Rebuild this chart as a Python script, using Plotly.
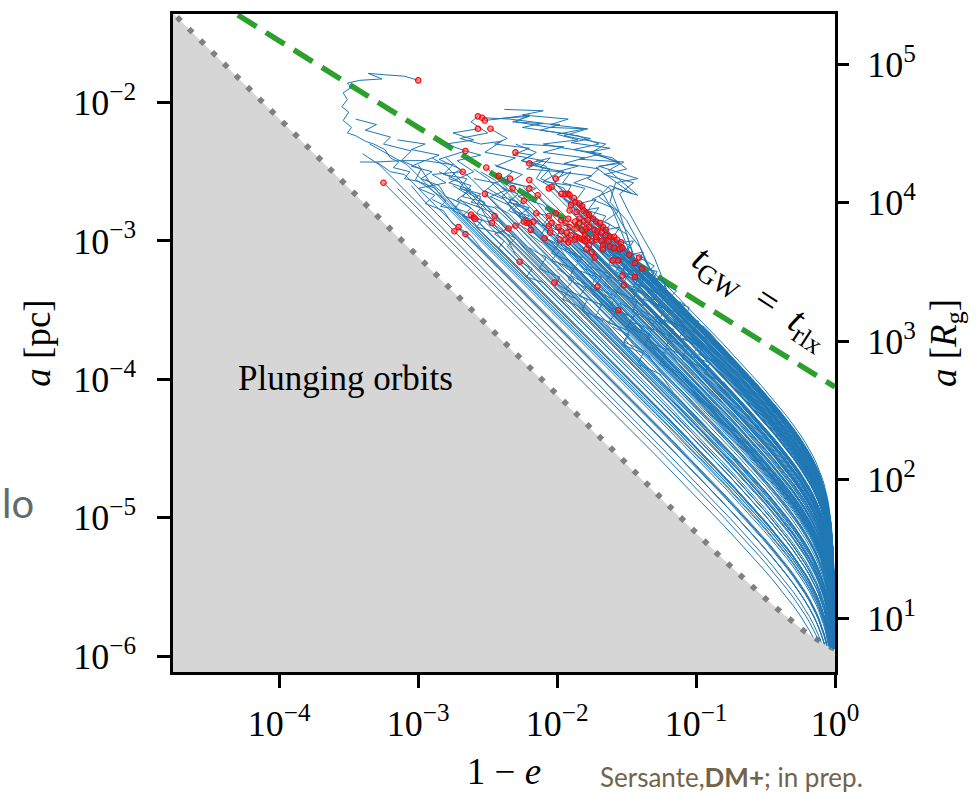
import numpy as np
import plotly.graph_objects as go

SERIF = "Liberation Serif"
SANS = "Lato"

# ---- axes (log10 units) ----
LOG_X_RANGE = [-4.765, 0.0]          # log10(1-e)
LOG_A_RANGE = [-6.113, -1.361]       # log10(a / pc)
LOG_RG_PER_PC = 6.725                # log10(1 pc / R_g)

x_tick_vals = [1e-4, 1e-3, 1e-2, 1e-1, 1.0]
x_tick_text = ["10<sup>−4</sup>", "10<sup>−3</sup>", "10<sup>−2</sup>", "10<sup>−1</sup>", "10<sup>0</sup>"]
y_tick_vals = [1e-6, 1e-5, 1e-4, 1e-3, 1e-2]
y_tick_text = ["10<sup>−6</sup>", "10<sup>−5</sup>", "10<sup>−4</sup>", "10<sup>−3</sup>", "10<sup>−2</sup>"]
y2_tick_vals = [1e1, 1e2, 1e3, 1e4, 1e5]
y2_tick_text = ["10<sup>1</sup>", "10<sup>2</sup>", "10<sup>3</sup>", "10<sup>4</sup>", "10<sup>5</sup>"]

# ---- t_GW = t_rlx line (straight in log-log), endpoints ----
tgw_log_x = [-4.5, 0.0]
tgw_log_a = [-1.2425, -4.055]

# ---- red dots: initial conditions, log10(1-e), log10(a/pc) ----
dot_log_x = [
    -2.30, -2.20, -2.34, -2.20, -2.01, -2.32, -2.20, -2.06, -2.04, -2.14,
    -1.97, -1.94, -1.92, -1.91, -2.24, -1.88, -1.87, -1.84, -1.90, -1.82,
    -1.81, -1.91, -1.86, -1.79, -1.77, -2.15, -2.01, -2.06, -1.97, -1.92,
    -1.87, -1.84, -1.81, -1.78, -1.74, -1.72, -1.69, -1.67, -1.65, -2.17,
    -2.20, -2.22, -2.24, -2.30, -2.35, -2.19, -2.06, -2.04, -1.99, -1.94,
    -1.91, -1.86, -1.82, -1.79, -1.77, -1.73, -1.71, -1.68, -1.65, -1.62,
    -1.59, -1.57, -1.54, -2.05, -1.97, -1.93, -1.90, -1.86, -1.82, -1.80,
    -1.78, -1.75, -1.72, -1.68, -1.67, -1.62, -1.59, -1.55, -1.53, -2.09,
    -1.98, -1.94, -1.92, -1.87, -1.84, -1.80, -1.77, -1.79, -1.75, -1.73,
    -1.67, -1.60, -1.56, -1.48, -1.44, -1.41, -1.39, -1.53, -1.44, -1.52,
    -1.71, -2.02, -2.27, -1.56, -1.84, -1.72, -1.63,
    -3.00, -2.57, -2.54, -2.52, -2.57, -2.48, -2.66, -2.68, -2.51, -2.42,
    -2.52, -3.25, -2.62, -2.60, -2.59, -2.45, -2.47, -2.71, -2.74, -2.66,
]
dot_log_a = [
    -2.36, -2.44, -2.55, -2.56, -2.55, -2.62, -2.62, -2.62, -2.61, -2.67,
    -2.66, -2.66, -2.66, -2.67, -2.71, -2.69, -2.72, -2.73, -2.74, -2.75,
    -2.78, -2.78, -2.79, -2.80, -2.81, -2.80, -2.80, -2.82, -2.85, -2.84,
    -2.86, -2.84, -2.86, -2.85, -2.84, -2.86, -2.87, -2.90, -2.92, -2.86,
    -2.87, -2.87, -2.86, -2.89, -2.91, -2.92, -2.89, -2.87, -2.90, -2.87,
    -2.90, -2.91, -2.92, -2.91, -2.90, -2.92, -2.93, -2.94, -2.96, -2.97,
    -2.97, -2.99, -3.01, -2.94, -2.93, -2.94, -2.96, -2.97, -2.99, -2.96,
    -2.98, -3.00, -2.99, -3.00, -3.03, -3.04, -3.05, -3.06, -3.05, -2.98,
    -2.99, -2.99, -3.01, -2.99, -2.98, -3.00, -3.03, -3.06, -3.08, -3.12,
    -3.06, -3.14, -3.14, -3.10, -3.16, -3.12, -3.20, -3.25, -3.26, -3.32,
    -3.33, -3.30, -3.15, -3.50, -2.87, -2.97, -3.00,
    -1.84, -2.10, -2.11, -2.13, -2.19, -2.19, -2.35, -2.50, -2.47, -2.53,
    -2.66, -2.58, -2.81, -2.83, -2.84, -2.82, -2.87, -2.90, -2.93, -2.95,
]

# ---- wandering (relaxation) paths after some dots, (log10(1-e), log10 a) ----
path_j1 = [(-3.10, -1.81), (-3.24, -1.80), (-3.36, -1.79), (-3.26, -1.83), (-3.42, -1.84),
           (-3.51, -1.86), (-3.48, -1.89), (-3.54, -1.93), (-3.51, -1.98), (-3.55, -2.03),
           (-3.50, -2.07), (-3.54, -2.13), (-3.48, -2.18), (-3.51, -2.22), (-3.45, -2.24),
           (-3.38, -2.28), (-3.32, -2.30), (-3.24, -2.34), (-3.20, -2.40), (-3.14, -2.43),
           (-3.18, -2.47), (-3.06, -2.50), (-3.10, -2.55), (-3.00, -2.57), (-2.92, -2.62),
           (-2.80, -2.71), (-2.84, -2.75), (-2.68, -2.78), (-2.54, -2.85), (-2.58, -2.90),
           (-2.39, -2.95)]
path_j3 = [(-2.34, -2.12), (-2.10, -2.15), (-2.25, -2.18), (-1.98, -2.22), (-1.76, -2.26),
           (-1.90, -2.29), (-1.62, -2.33), (-1.78, -2.36), (-1.55, -2.43), (-1.72, -2.47),
           (-1.46, -2.66), (-1.62, -2.60), (-1.70, -2.68), (-1.56, -2.79), (-1.66, -2.86),
           (-1.50, -2.95), (-1.45, -3.12)]
path_j4 = [(-2.20, -2.09), (-2.30, -2.14), (-2.05, -2.18), (-1.80, -2.19), (-2.00, -2.23),
           (-1.85, -2.27), (-2.10, -2.30), (-1.95, -2.33), (-1.68, -2.37), (-1.84, -2.41),
           (-1.52, -2.43), (-1.63, -2.49), (-1.42, -2.67), (-1.58, -2.62), (-1.75, -2.70),
           (-1.60, -2.76), (-1.52, -2.90), (-1.40, -3.05), (-1.30, -3.27)]
path_j5 = [(-2.62, -2.14), (-2.50, -2.22), (-2.70, -2.26), (-2.55, -2.30), (-2.40, -2.28),
           (-2.52, -2.36), (-2.30, -2.40), (-2.44, -2.46), (-2.25, -2.52), (-2.35, -2.58),
           (-2.15, -2.62), (-2.28, -2.68), (-2.10, -2.74), (-2.00, -2.85), (-1.90, -2.96)]
path_j6 = [(-2.36, -2.26), (-2.45, -2.30), (-2.20, -2.33), (-2.32, -2.38), (-2.10, -2.42),
           (-2.22, -2.48), (-1.98, -2.50), (-2.10, -2.57), (-1.90, -2.60), (-1.95, -2.70),
           (-1.80, -2.76), (-1.72, -2.88)]
path_j7 = [(-2.75, -2.22), (-2.60, -2.27), (-2.80, -2.30), (-2.66, -2.35), (-2.85, -2.41),
           (-2.70, -2.48), (-2.78, -2.55), (-2.62, -2.60), (-2.68, -2.68), (-2.52, -2.72),
           (-2.58, -2.80), (-2.42, -2.86), (-2.30, -2.98), (-2.18, -3.12)]
path_j8 = [(-2.55, -2.38), (-2.72, -2.42), (-2.60, -2.50), (-2.78, -2.58), (-2.62, -2.63),
           (-2.72, -2.70), (-2.55, -2.76), (-2.48, -2.88), (-2.36, -2.98), (-2.30, -3.10)]
path_j9 = [(-2.90, -2.52), (-2.80, -2.58), (-3.00, -2.62), (-2.88, -2.67), (-2.95, -2.73),
           (-2.82, -2.78), (-2.75, -2.88), (-2.62, -2.96), (-2.55, -3.05)]

dot_paths = {
    107: path_j1, 108: path_j5, 109: path_j3, 110: path_j4,
    111: path_j7, 112: path_j6, 113: path_j8, 114: path_j9,
    0: [(-2.18, -2.38), (-2.26, -2.42), (-2.10, -2.47), (-2.15, -2.55), (-2.02, -2.62)],
    1: [(-2.05, -2.40), (-2.12, -2.47), (-1.95, -2.50), (-2.02, -2.58), (-1.88, -2.70)],
    4: [(-1.90, -2.50), (-1.96, -2.58), (-1.80, -2.62), (-1.86, -2.70), (-1.72, -2.85)],
    2: [(-2.45, -2.58), (-2.36, -2.63), (-2.48, -2.68), (-2.35, -2.74), (-2.25, -2.85)],
    5: [(-2.40, -2.68), (-2.28, -2.72), (-2.35, -2.78), (-2.22, -2.84)],
    14: [(-2.32, -2.78), (-2.20, -2.82), (-2.28, -2.88), (-2.14, -2.96)],
    43: [(-2.40, -2.93), (-2.30, -2.98), (-2.36, -3.04)],
    44: [(-2.45, -2.95), (-2.38, -3.00), (-2.42, -3.05)],
    95: [(-1.30, -3.18), (-1.36, -3.24), (-1.22, -3.30), (-1.25, -3.40), (-1.10, -3.48)],
    96: [(-1.28, -3.22), (-1.32, -3.30), (-1.18, -3.38), (-1.20, -3.46), (-1.05, -3.55)],
    93: [(-1.38, -3.08), (-1.42, -3.16), (-1.30, -3.22), (-1.34, -3.30), (-1.20, -3.40)],
    62: [(-1.45, -3.00), (-1.50, -3.08), (-1.38, -3.12), (-1.28, -3.28)],
    103: [(-1.45, -3.56), (-1.50, -3.62), (-1.35, -3.68), (-1.30, -3.80)],
    101: [(-1.92, -3.36), (-1.96, -3.42), (-1.85, -3.47)],
    102: [(-2.18, -3.20), (-2.22, -3.26), (-2.10, -3.30)],
    38: [(-1.55, -2.90), (-1.60, -2.98), (-1.48, -3.03), (-1.52, -3.10), (-1.40, -3.17)],
    17: [(-1.72, -2.70), (-1.78, -2.78), (-1.65, -2.82), (-1.70, -2.90), (-1.58, -2.98)],
    20: [(-1.70, -2.76), (-1.75, -2.83), (-1.62, -2.88), (-1.66, -2.95), (-1.52, -3.04)],
    25: [(-2.05, -2.82), (-2.10, -2.88), (-1.98, -2.93), (-2.02, -3.00), (-1.90, -3.06)],
    39: [(-2.08, -2.90), (-2.12, -2.96), (-2.00, -3.02), (-1.92, -3.14)],
    63: [(-1.96, -2.98), (-2.00, -3.04), (-1.88, -3.10), (-1.80, -3.22)],
    79: [(-2.00, -3.03), (-2.04, -3.09), (-1.92, -3.14)],
    99: [(-1.42, -3.36), (-1.46, -3.43), (-1.34, -3.48), (-1.25, -3.60)],
    97: [(-1.42, -3.28), (-1.46, -3.35), (-1.34, -3.40), (-1.25, -3.52)],
}

# ---- tracks whose start dot is not visible ----
jag_tracks = [
    [(-3.42, -2.43), (-3.30, -2.43), (-3.12, -2.42), (-2.95, -2.42), (-3.05, -2.46), (-2.90, -2.50),
     (-2.98, -2.55), (-2.85, -2.60), (-2.80, -2.68), (-2.70, -2.72), (-2.75, -2.78), (-2.62, -2.84),
     (-2.55, -2.93), (-2.45, -3.02)],
    [(-2.46, -2.12), (-2.20, -2.10), (-2.32, -2.14), (-1.98, -2.16), (-2.12, -2.20), (-1.85, -2.24),
     (-1.70, -2.30), (-1.88, -2.34), (-1.60, -2.40), (-1.50, -2.48), (-1.66, -2.52), (-1.45, -2.58),
     (-1.55, -2.66), (-1.48, -2.80), (-1.38, -2.98), (-1.30, -3.12), (-1.20, -3.38)],
    [(-2.38, -2.05), (-2.10, -2.06), (-2.25, -2.09), (-1.92, -2.12), (-2.05, -2.16), (-1.78, -2.19),
     (-1.95, -2.24), (-1.65, -2.30), (-1.75, -2.36), (-1.55, -2.44), (-1.70, -2.46), (-1.42, -2.55),
     (-1.58, -2.58), (-1.62, -2.72), (-1.50, -2.85), (-1.42, -3.00), (-1.35, -3.18)],
    [(-3.15, -2.27), (-2.95, -2.30), (-3.05, -2.34), (-2.85, -2.38), (-2.95, -2.42), (-2.75, -2.45),
     (-2.82, -2.52), (-2.65, -2.55), (-2.70, -2.62), (-2.55, -2.68), (-2.58, -2.75), (-2.45, -2.80),
     (-2.38, -2.90)],
    [(-3.45, -2.12), (-3.30, -2.16), (-3.38, -2.20), (-3.20, -2.25), (-3.25, -2.30), (-3.05, -2.35),
     (-3.12, -2.42), (-2.98, -2.48), (-3.02, -2.56), (-2.88, -2.62), (-2.80, -2.72), (-2.70, -2.82)],
]
wander_tracks = [
    [(-2.70, -2.62), (-2.55, -2.66), (-2.62, -2.72), (-2.45, -2.76), (-2.35, -2.85), (-2.25, -2.97)],
    [(-2.60, -2.55), (-2.45, -2.58), (-2.52, -2.64), (-2.38, -2.70), (-2.30, -2.80), (-2.20, -2.90)],
    [(-2.45, -2.45), (-2.32, -2.50), (-2.40, -2.56), (-2.25, -2.60), (-2.15, -2.72), (-2.05, -2.85)],
    [(-2.40, -2.62), (-2.28, -2.66), (-2.35, -2.72), (-2.20, -2.78), (-2.10, -2.88)],
    [(-2.75, -2.70), (-2.62, -2.76), (-2.68, -2.82), (-2.50, -2.86), (-2.40, -2.95)],
    [(-2.30, -2.30), (-2.15, -2.36), (-2.25, -2.42), (-2.08, -2.46), (-2.00, -2.60)],
    [(-2.20, -2.45), (-2.05, -2.48), (-2.12, -2.55), (-1.95, -2.62), (-1.90, -2.72)],
    [(-2.35, -2.72), (-2.20, -2.76), (-2.28, -2.82), (-2.12, -2.86), (-2.05, -2.95)],
    [(-2.25, -2.30), (-1.95, -2.32), (-2.10, -2.36), (-1.80, -2.40), (-1.95, -2.44), (-1.70, -2.48),
     (-1.78, -2.55), (-1.62, -2.62), (-1.55, -2.80), (-1.40, -3.25)],
    [(-2.15, -2.42), (-1.85, -2.46), (-2.00, -2.50), (-1.75, -2.53), (-1.88, -2.58), (-1.68, -2.64),
     (-1.60, -2.78), (-1.45, -3.15)],
]
band_tracks = [
    [(-1.75, -2.95), (-1.62, -3.02), (-1.68, -3.08), (-1.52, -3.14), (-1.58, -3.22), (-1.40, -3.30), (-1.30, -3.42)],
    [(-1.70, -3.05), (-1.58, -3.10), (-1.63, -3.17), (-1.48, -3.22), (-1.52, -3.30), (-1.36, -3.38), (-1.25, -3.52)],
    [(-1.85, -3.05), (-1.72, -3.12), (-1.78, -3.18), (-1.62, -3.24), (-1.66, -3.32), (-1.50, -3.40), (-1.40, -3.52)],
    [(-1.95, -3.05), (-1.82, -3.12), (-1.88, -3.20), (-1.72, -3.26), (-1.76, -3.34), (-1.60, -3.42), (-1.50, -3.55)],
    [(-1.60, -3.10), (-1.48, -3.15), (-1.54, -3.22), (-1.38, -3.28), (-1.42, -3.36), (-1.26, -3.44), (-1.15, -3.58)],
    [(-1.50, -3.20), (-1.38, -3.24), (-1.44, -3.31), (-1.28, -3.37), (-1.32, -3.45), (-1.16, -3.52), (-1.05, -3.65)],
    [(-1.45, -3.30), (-1.32, -3.35), (-1.38, -3.42), (-1.22, -3.48), (-1.26, -3.56), (-1.10, -3.64), (-1.00, -3.78)],
    [(-1.65, -3.25), (-1.52, -3.30), (-1.58, -3.37), (-1.42, -3.43), (-1.46, -3.51), (-1.30, -3.58), (-1.20, -3.72)],
    [(-1.80, -3.20), (-1.68, -3.26), (-1.73, -3.33), (-1.58, -3.40), (-1.62, -3.48), (-1.46, -3.55), (-1.36, -3.68)],
    [(-1.90, -3.25), (-1.78, -3.32), (-1.84, -3.40), (-1.68, -3.46), (-1.72, -3.54), (-1.56, -3.62), (-1.45, -3.75)],
    [(-1.35, -3.35), (-1.22, -3.40), (-1.28, -3.47), (-1.12, -3.52), (-1.16, -3.60), (-1.00, -3.66), (-0.90, -3.78)],
    [(-1.30, -3.45), (-1.18, -3.50), (-1.23, -3.57), (-1.08, -3.62), (-1.12, -3.70), (-0.96, -3.76), (-0.86, -3.88)],
    [(-1.40, -3.50), (-1.28, -3.56), (-1.33, -3.63), (-1.18, -3.69), (-1.22, -3.77), (-1.06, -3.84), (-0.96, -3.98)],
    [(-1.55, -3.45), (-1.42, -3.51), (-1.48, -3.58), (-1.32, -3.64), (-1.36, -3.72), (-1.20, -3.79), (-1.10, -3.92)],
    [(-1.70, -3.45), (-1.58, -3.52), (-1.63, -3.59), (-1.48, -3.65), (-1.52, -3.73), (-1.36, -3.80), (-1.26, -3.94)],
    [(-2.00, -3.20), (-1.88, -3.28), (-1.94, -3.35), (-1.78, -3.42), (-1.82, -3.50), (-1.66, -3.58), (-1.56, -3.70)],
    [(-1.25, -3.30), (-1.14, -3.36), (-1.20, -3.42), (-1.05, -3.48), (-1.08, -3.56), (-0.94, -3.62), (-0.85, -3.72)],
    [(-1.20, -3.40), (-1.08, -3.46), (-1.14, -3.52), (-0.98, -3.58), (-1.02, -3.66), (-0.88, -3.72), (-0.78, -3.84)],
    [(-1.28, -3.58), (-1.16, -3.64), (-1.21, -3.71), (-1.06, -3.77), (-1.10, -3.85), (-0.94, -3.92), (-0.84, -4.05)],
    [(-1.45, -3.62), (-1.32, -3.68), (-1.38, -3.75), (-1.22, -3.81), (-1.26, -3.89), (-1.10, -3.96), (-1.00, -4.10)],
    [(-1.60, -3.62), (-1.48, -3.68), (-1.53, -3.75), (-1.38, -3.81), (-1.42, -3.89), (-1.26, -3.96), (-1.16, -4.10)],
    [(-2.10, -3.00), (-1.98, -3.07), (-2.04, -3.14), (-1.88, -3.20), (-1.92, -3.28), (-1.76, -3.35), (-1.66, -3.48)],
    [(-2.20, -3.05), (-2.08, -3.12), (-2.13, -3.20), (-1.98, -3.26), (-2.02, -3.34), (-1.86, -3.42), (-1.76, -3.56)],
    [(-1.15, -3.55), (-1.04, -3.61), (-1.10, -3.68), (-0.95, -3.74), (-0.98, -3.82), (-0.84, -3.88), (-0.75, -3.98)],
    [(-1.10, -3.70), (-0.98, -3.76), (-1.04, -3.83), (-0.90, -3.88), (-0.94, -3.96), (-0.80, -4.02), (-0.70, -4.14)],
]
low_tracks = [
    [(-3.30, -2.43), (-3.20, -2.50), (-3.10, -2.52), (-3.00, -2.62)],
    [(-3.40, -2.37), (-3.28, -2.45)],
    [(-3.35, -2.30), (-3.20, -2.38), (-3.08, -2.45)],
    [(-3.05, -2.60), (-2.95, -2.72)],
    [(-2.95, -2.55), (-2.85, -2.63)],
    [(-2.90, -2.70), (-2.80, -2.75)],
    [(-2.85, -2.82)],
    [(-3.15, -2.62)],
    [(-2.70, -2.80), (-2.60, -2.88)],
    [(-2.80, -2.68), (-2.70, -2.80)],
    [(-3.00, -2.45), (-2.90, -2.60)],
    [(-2.50, -2.98)],
]
mid_tracks = [
    [(-2.80, -2.40), (-2.70, -2.48), (-2.62, -2.55)],
    [(-2.85, -2.50), (-2.72, -2.56)],
    [(-2.55, -2.50), (-2.45, -2.56)],
    [(-2.65, -2.65), (-2.55, -2.70)],
    [(-2.50, -2.62), (-2.40, -2.68)],
    [(-2.90, -2.40), (-2.80, -2.46)],
    [(-2.70, -2.70), (-2.60, -2.78)],
    [(-2.45, -2.75), (-2.35, -2.80)],
    [(-2.60, -2.48), (-2.50, -2.55)],
    [(-2.40, -2.55), (-2.30, -2.62)],
    [(-2.75, -2.60), (-2.65, -2.66)],
    [(-2.35, -2.68), (-2.25, -2.75)],
    [(-2.50, -2.85), (-2.40, -2.92)],
    [(-2.30, -2.78), (-2.20, -2.85)],
    [(-2.20, -2.95), (-2.10, -3.02)],
    [(-2.00, -3.15), (-1.90, -3.22)],
    [(-1.85, -3.30), (-1.75, -3.38)],
    [(-2.10, -3.10), (-2.00, -3.18)],
    [(-1.70, -3.40), (-1.60, -3.48)],
    [(-1.90, -3.08), (-1.80, -3.15)],
]

# ---- physics helpers ----
RG_PC = 10 ** (-LOG_RG_PER_PC)


def peters_g(e):
    return e ** (12 / 19) / (1 - e ** 2) * (1 + 121 / 304 * e ** 2) ** (870 / 2299)


def separatrix_a(e):
    return (6 + 2 * e) / (1 - e ** 2) * RG_PC


def gw_tail(lx, la):
    e0 = 1 - 10 ** lx
    c0 = 10 ** la / peters_g(e0)
    e1 = 1 - np.logspace(lx, np.log10(0.5), 60)
    e2 = np.logspace(np.log10(0.5), -4, 70)[1:]
    e = np.concatenate([e1, e2])
    a = c0 * peters_g(e)
    s = separatrix_a(e)
    hit = np.nonzero(a <= s)[0]
    if len(hit):
        k = hit[0]
        f1 = np.log10(a[k - 1] / s[k - 1])
        f2 = np.log10(a[k] / s[k])
        t = f1 / (f1 - f2)
        ec = e[k - 1] + t * (e[k] - e[k - 1])
        e = np.append(e[:k], ec)
        a = np.append(a[:k], c0 * peters_g(ec))
    return 1 - e, a


track_x, track_y = [], []


def add_track(points):
    pts = list(points)
    tx, ta = gw_tail(*pts[-1])
    xs = [10 ** p[0] for p in pts[:-1]] + list(tx)
    ys = [10 ** p[1] for p in pts[:-1]] + list(ta)
    track_x.extend(xs + [None])
    track_y.extend(ys + [None])


for i, (lx, la) in enumerate(zip(dot_log_x, dot_log_a)):
    add_track([(lx, la)] + dot_paths.get(i, []))
for tr in jag_tracks + wander_tracks + band_tracks + low_tracks + mid_tracks:
    add_track(tr)

# plunge boundary (separatrix)
plunge_x = np.logspace(-6, 0, 400)
plunge_e = 1 - plunge_x
plunge_a = separatrix_a(plunge_e)

fig = go.Figure()
fig.add_trace(go.Scatter(
    x=list(plunge_x) + [1.0, 1e-6], y=list(plunge_a) + [1e-9, 1e-9],
    fill="toself", fillcolor="#d6d6d6", line=dict(width=0), mode="lines",
    hoverinfo="skip"))
fig.add_trace(go.Scatter(
    x=plunge_x, y=plunge_a, mode="lines",
    line=dict(color="#808080", width=5.5, dash="5.5px,11px"), hoverinfo="skip"))
fig.add_trace(go.Scatter(
    x=[10 ** v for v in tgw_log_x], y=[10 ** v for v in tgw_log_a], mode="lines",
    line=dict(color="#2ca02c", width=5.5, dash="22px,11px"), hoverinfo="skip"))
fig.add_trace(go.Scatter(
    x=track_x, y=track_y, mode="lines",
    line=dict(color="#1f77b4", width=1.0), hoverinfo="skip", connectgaps=False))
fig.add_trace(go.Scatter(
    x=[10 ** v for v in dot_log_x], y=[10 ** v for v in dot_log_a], mode="markers",
    marker=dict(size=5.5, color="rgba(255,40,40,0.45)", line=dict(color="#ff0000", width=1.1)),
    hoverinfo="skip"))
fig.add_trace(go.Scatter(x=[], y=[], yaxis="y2", hoverinfo="skip"))

axis_common = dict(
    type="log", tickmode="array", ticks="outside", ticklen=13, tickwidth=2.5,
    tickcolor="black", showgrid=False, zeroline=False,
    tickfont=dict(family=SERIF, size=36, color="black"),
)

fig.update_layout(
    width=976, height=797,
    margin=dict(l=173, r=141, t=11, b=124),
    plot_bgcolor="white", paper_bgcolor="white",
    showlegend=False, hovermode=False,
    xaxis=dict(axis_common, range=LOG_X_RANGE, tickvals=x_tick_vals, ticktext=x_tick_text,
               showline=True, linewidth=2.5, linecolor="black", mirror=True,
               ticklabelstandoff=5,
               title=dict(text="1 − <i>e</i>", font=dict(family=SERIF, size=37, color="black"),
                          standoff=16)),
    yaxis=dict(axis_common, range=LOG_A_RANGE, tickvals=y_tick_vals, ticktext=y_tick_text,
               showline=True, linewidth=2.5, linecolor="black", mirror=True,
               ticklabelstandoff=14,
               title=dict(text="<i>a</i> [pc]", font=dict(family=SERIF, size=37, color="black"),
                          standoff=12)),
    yaxis2=dict(axis_common, overlaying="y", side="right",
                range=[LOG_A_RANGE[0] + LOG_RG_PER_PC, LOG_A_RANGE[1] + LOG_RG_PER_PC],
                tickvals=y2_tick_vals, ticktext=y2_tick_text, showline=False,
                ticklabelstandoff=11,
                title=dict(text="<i>a</i> [<i>R</i><sub>g</sub>]",
                           font=dict(family=SERIF, size=37, color="black"), standoff=14)),
)

fig.add_annotation(x=-3.52, y=-3.996, xref="x", yref="y", text="Plunging orbits",
                   showarrow=False, font=dict(family=SERIF, size=35, color="black"))
fig.add_annotation(x=-0.54, y=-3.41, xref="x", yref="y",
                   text="<i>t</i><sub>GW</sub>&nbsp;&nbsp;=&nbsp;&nbsp;<i>t</i><sub>rlx</sub>",
                   textangle=33, showarrow=False,
                   font=dict(family=SERIF, size=38, color="black"))
fig.add_annotation(x=-173 / 662, y=1 - (503 - 11) / 662, xref="paper", yref="paper",
                   xanchor="left", yanchor="middle", text="lo", showarrow=False,
                   font=dict(family=SANS, size=40, color="#5f6b6c"))
fig.add_annotation(x=(598 - 173) / 662, y=1 - (779 - 11) / 662, xref="paper", yref="paper",
                   xanchor="left", yanchor="middle",
                   text="Sersante,<b>DM+</b>; in prep.", showarrow=False,
                   font=dict(family=SANS, size=26, color="#72644a"))

fig.write_html("out.html")
